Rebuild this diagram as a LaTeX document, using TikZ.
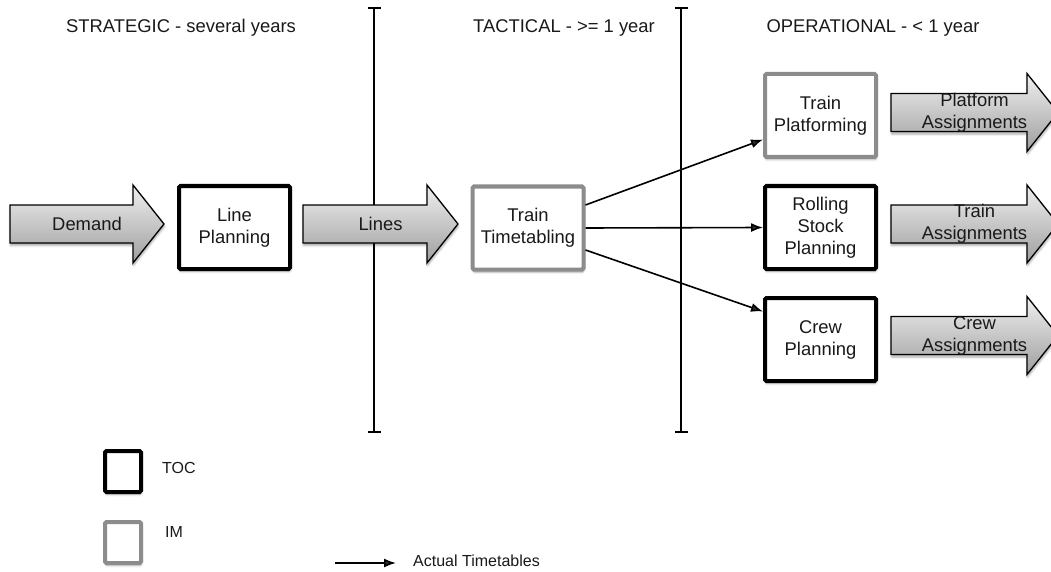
\documentclass[tikz,border=0pt]{standalone}
\usepackage{fontspec}
\setmainfont{Liberation Sans}
\usetikzlibrary{arrows.meta,shadows.blur,positioning}

\newcommand{\diagfont}{\fontsize{18.4}{22}\selectfont}
\newcommand{\keyfont}{\fontsize{16}{19}\selectfont}

% fat arrow: name, left x, centre y, shaft length, text
\newcommand{\fatarrow}[5]{%
    \draw[fatarrow] (#2,#3-19) -- (#2+#4,#3-19) -- (#2+#4,#3-39) -- (#2+#4+31,#3)
        -- (#2+#4,#3+39) -- (#2+#4,#3+19) -- (#2,#3+19) -- cycle;
    \node[arrowtext] (#1) at (#2+#4/2+15.5,#3) {#5};
}

\begin{document}
\begin{tikzpicture}[x=1pt, y=-1pt,
            tocbox/.style={
                draw=black,
                line width=4pt,
                fill=white,
                rounded corners=1.5pt,
                minimum width=111pt,
                minimum height=83pt,
                font=\diagfont,
                text=black!90,
                align=center,
                blur shadow={shadow xshift=0.5pt, shadow yshift=-2.5pt, shadow opacity=35}
            },
            imbox/.style={
                tocbox,
                draw=black!45
            },
            fatarrow/.style={
                draw=black,
                line width=1.3pt,
                top color=black!6,
                bottom color=black!38,
                blur shadow={shadow xshift=0.5pt, shadow yshift=-2.5pt, shadow opacity=35}
            },
            arrowtext/.style={
                font=\diagfont,
                text=black!90,
                align=center,
                inner sep=0pt
            },
            header/.style={
                font=\diagfont,
                text=black!90
            },
            keytext/.style={
                font=\keyfont,
                text=black!90,
                inner sep=0pt,
                anchor=west
            },
            flow/.style={
                -{Latex[length=12pt,width=9pt]},
                line width=1.6pt
            },
            divider/.style={
                {Bar[width=13pt]}-{Bar[width=13pt]},
                line width=1.6pt
            }
        ]

        \clip (0,0) rectangle (1051,572);

        % Horizon headers
        \node[header] (strat) at (181,28) {STRATEGIC - several years};
        \node[header] (tact) at (564,28) {TACTICAL - >= 1 year};
        \node[header] (oper) at (873,28) {OPERATIONAL - < 1 year};

        % Dividers between horizons
        \coordinate (divAtop) at (374,7);
        \coordinate (divAbot) at (374,433);
        \coordinate (divBtop) at (681,7);
        \coordinate (divBbot) at (681,433);
        \draw[divider] (divAtop) -- (divAbot);
        \draw[divider] (divBtop) -- (divBbot);

        % Inputs and outputs
        \fatarrow{demand}{10}{224}{123}{Demand}
        \fatarrow{lines}{303}{224}{124}{Lines}
        \fatarrow{platass}{891}{112.5}{136}{Platform\\Assignments}
        \fatarrow{trainass}{891}{224}{136}{Train\\Assignments}
        \fatarrow{crewass}{891}{335.5}{136}{Crew\\Assignments}

        % Planning stages
        \node[tocbox] (linepl) at (234.5,227.5) {Line\\Planning};
        \node[imbox] (timetab) at (528,228) {Train\\Timetabling};
        \node[tocbox] (rstock) at (820.5,227.5) {Rolling\\Stock\\Planning};
        \node[imbox, above=25pt of rstock] (platf) {Train\\Platforming};
        \node[tocbox, below=25pt of rstock] (crewpl) {Crew\\Planning};

        % Actual timetables
        \draw[flow] ([yshift=23pt]timetab.east) -- ([yshift=-24pt]platf.west);
        \draw[flow] (timetab.east) -- (rstock.west);
        \draw[flow] ([yshift=-22pt]timetab.east) -- ([yshift=28pt]crewpl.west);

        % Key
        \node[tocbox, minimum width=36pt, minimum height=41pt] (keytoc) at (123,471.5) {};
        \node[keytext] (keytoclbl) at (162,468) {TOC};
        \node[imbox, minimum width=36pt, minimum height=41pt] (keyim) at (123,542.5) {};
        \node[keytext] (keyimlbl) at (165,532) {IM};
        \coordinate (keyfrom) at (335,563);
        \coordinate (keyto) at (396,563);
        \draw[flow] (keyfrom) -- (keyto);
        \node[keytext] (keyflowlbl) at (413,561) {Actual Timetables};
\end{tikzpicture}
\end{document}
